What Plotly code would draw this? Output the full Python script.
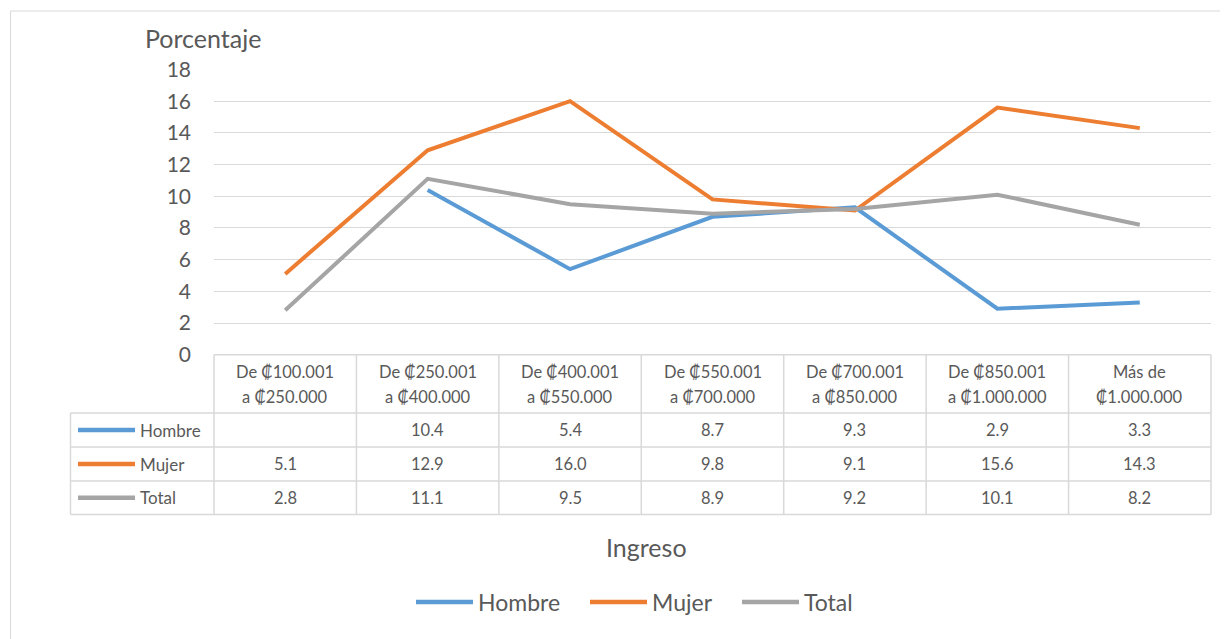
import plotly.graph_objects as go

W, H = 1228, 639

categories = [
    "De ₡100.001\na ₡250.000",
    "De ₡250.001\na ₡400.000",
    "De ₡400.001\na ₡550.000",
    "De ₡550.001\na ₡700.000",
    "De ₡700.001\na ₡850.000",
    "De ₡850.001\na ₡1.000.000",
    "Más de\n₡1.000.000",
]
hombre = [None, 10.4, 5.4, 8.7, 9.3, 2.9, 3.3]
mujer = [5.1, 12.9, 16.0, 9.8, 9.1, 15.6, 14.3]
total = [2.8, 11.1, 9.5, 8.9, 9.2, 10.1, 8.2]
y_ticks = list(range(0, 19, 2))

series = [
    ("Hombre", hombre, "#5B9BD5"),
    ("Mujer", mujer, "#ED7D31"),
    ("Total", total, "#A5A5A5"),
]

FONT = "Lato, 'DejaVu Sans', sans-serif"
TXT = "#595959"
GRID = "#d9d9d9"
OFF = 8  # page body margin


def px(x):
    return (x - OFF) / W


def py(y):
    return 1 - (y - OFF) / H


# plot area / table geometry (pixels, as seen on the page)
X0, X1 = 214, 1211
Y_TOP, Y_ZERO = 69.5, 354.7
TABLE_LEFT = 70.5
ROW_LINES = [354.7, 413, 447, 481, 514.5]

fig = go.Figure()
for name, vals, colour in series:
    fig.add_trace(go.Scatter(
        x=categories, y=vals, name=name, mode="lines",
        line=dict(color=colour, width=4),
        connectgaps=False, showlegend=False,
    ))

shapes = []
annotations = []


def label(x, y, text, size, xref="paper", xanchor="center"):
    annotations.append(dict(x=x, xref=xref, y=y, yref="paper", text=text,
                            showarrow=False, xanchor=xanchor, yanchor="middle",
                            font=dict(size=size, color=TXT)))


# table grid
for yy in ROW_LINES:
    x_start = X0 if yy == ROW_LINES[0] else TABLE_LEFT
    shapes.append(dict(type="line", xref="paper", yref="paper",
                       x0=px(x_start), x1=px(X1), y0=py(yy), y1=py(yy),
                       line=dict(color=GRID, width=1.5)))
shapes.append(dict(type="line", xref="paper", yref="paper",
                   x0=px(TABLE_LEFT), x1=px(TABLE_LEFT),
                   y0=py(ROW_LINES[1]), y1=py(ROW_LINES[-1]),
                   line=dict(color=GRID, width=1.5)))
col_w = (X1 - X0) / len(categories)
for i in range(len(categories) + 1):
    xx = X0 + i * col_w
    shapes.append(dict(type="line", xref="paper", yref="paper",
                       x0=px(xx), x1=px(xx),
                       y0=py(ROW_LINES[0]), y1=py(ROW_LINES[-1]),
                       line=dict(color=GRID, width=1.5)))

# header text
for cat in categories:
    l1, l2 = cat.split("\n")
    label(cat, py(372), l1, 16.5, xref="x")
    label(cat, py(397), l2, 16.5, xref="x")

# table rows
for r, (name, vals, colour) in enumerate(series):
    yc = (ROW_LINES[r + 1] + ROW_LINES[r + 2]) / 2
    shapes.append(dict(type="line", xref="paper", yref="paper",
                       x0=px(78), x1=px(135), y0=py(yc), y1=py(yc),
                       line=dict(color=colour, width=4.5)))
    label(px(138), py(yc), name, 17, xanchor="left")
    for cat, v in zip(categories, vals):
        if v is None:
            continue
        label(cat, py(yc), f"{v:.1f}", 16.5, xref="x")

# bottom legend
legend_x = [415, 589, 741]
for (name, vals, colour), lx in zip(series, legend_x):
    shapes.append(dict(type="line", xref="paper", yref="paper",
                       x0=px(lx + 1), x1=px(lx + 58), y0=py(602), y1=py(602),
                       line=dict(color=colour, width=4.5)))
    label(px(lx + 61), py(602), name, 23, xanchor="left")

# titles
label(px(203), py(38), "Porcentaje", 25)
label(px(646), py(547), "Ingreso", 25)

# chart border
shapes.append(dict(type="line", xref="paper", yref="paper",
                   x0=px(10.5), x1=px(10.5), y0=py(11), y1=0,
                   line=dict(color=GRID, width=1)))
shapes.append(dict(type="line", xref="paper", yref="paper",
                   x0=px(10.5), x1=1, y0=py(11), y1=py(11),
                   line=dict(color=GRID, width=1)))

fig.update_layout(
    width=W, height=H,
    margin=dict(l=0, r=0, t=0, b=0, pad=0, autoexpand=False),
    paper_bgcolor="white", plot_bgcolor="white",
    font=dict(family=FONT, color=TXT),
    xaxis=dict(domain=[px(X0), px(X1)], range=[-0.5, len(categories) - 0.5],
               showticklabels=False, showgrid=False, zeroline=False,
               showline=False, ticks="", automargin=False),
    yaxis=dict(domain=[py(Y_ZERO), py(Y_TOP)], range=[0, 18],
               tickvals=y_ticks, ticks="", showline=False,
               gridcolor=GRID, gridwidth=1, zeroline=False,
               tickfont=dict(size=21, color=TXT),
               ticklabelstandoff=22, automargin=False),
    shapes=shapes,
    annotations=annotations,
)

fig.write_html("out.html")
